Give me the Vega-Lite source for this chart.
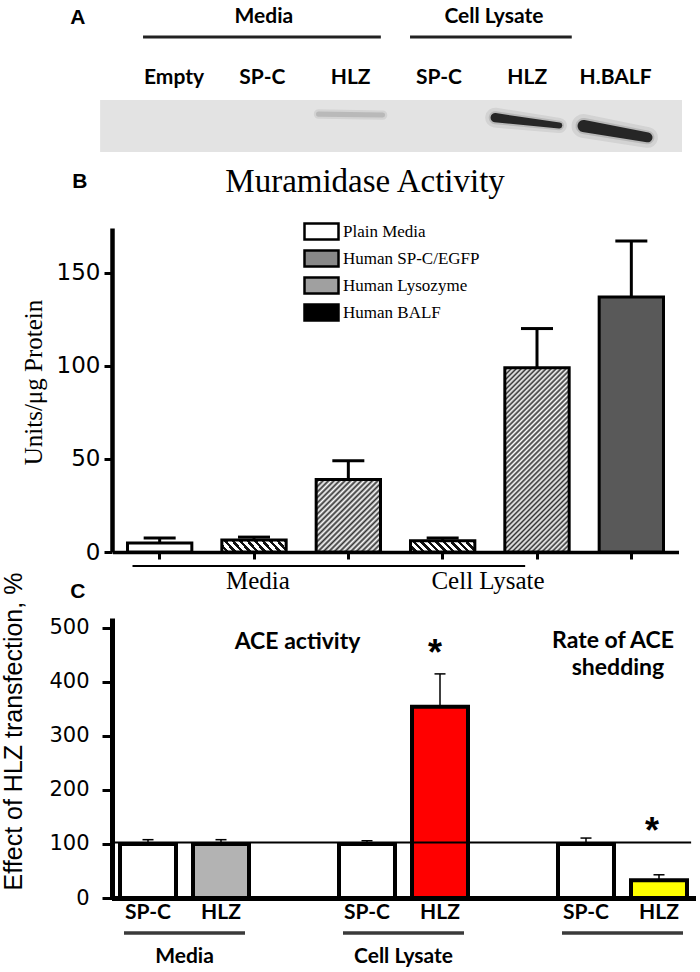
{
  "$schema": "https://vega.github.io/schema/vega-lite/v6.json",
  "width": 700,
  "height": 972,
  "autosize": {"type": "none"},
  "padding": 0,
  "background": "white",
  "config": {
    "view": {"stroke": null},
    "axis": {"grid": false, "domainColor": "black", "tickColor": "black", "labelColor": "black", "titleColor": "black"},
    "text": {"color": "black"}
  },
  "datasets": {
    "lanes": [
      {"lane": "Empty", "label": "Empty"},
      {"lane": "SP-C (M)", "label": "SP-C"},
      {"lane": "HLZ (M)", "label": "HLZ"},
      {"lane": "SP-C (L)", "label": "SP-C"},
      {"lane": "HLZ (L)", "label": "HLZ"},
      {"lane": "H.BALF", "label": "H.BALF"}
    ],
    "blot": [
      {"lane": "HLZ (M)", "end": "start", "migration": 0.27, "density": 0.1},
      {"lane": "HLZ (M)", "end": "end", "migration": 0.29, "density": 0.08},
      {"lane": "HLZ (L)", "end": "start", "migration": 0.34, "density": 0.75},
      {"lane": "HLZ (L)", "end": "end", "migration": 0.49, "density": 0.45},
      {"lane": "H.BALF", "end": "start", "migration": 0.5, "density": 1},
      {"lane": "H.BALF", "end": "end", "migration": 0.72, "density": 0.8}
    ],
    "muramidase": [
      {"cat": "B1", "group": "Media", "treatment": "Plain Media", "value": 4.8, "err": 7.5},
      {"cat": "B2", "group": "Media", "treatment": "Human SP-C/EGFP", "value": 6.5, "err": 8},
      {"cat": "B3", "group": "Media", "treatment": "Human Lysozyme", "value": 39, "err": 49},
      {"cat": "B4", "group": "Cell Lysate", "treatment": "Human SP-C/EGFP", "value": 6, "err": 7.5},
      {"cat": "B5", "group": "Cell Lysate", "treatment": "Human Lysozyme", "value": 99, "err": 120},
      {"cat": "B6", "group": "BALF", "treatment": "Human BALF", "value": 137, "err": 167}
    ],
    "ace": [
      {"group": "Media", "treat": "SP-C", "series": "control", "value": 100, "err": 108},
      {"group": "Media", "treat": "HLZ", "series": "HLZ media", "value": 100, "err": 108},
      {"group": "Cell Lysate", "treat": "SP-C", "series": "control", "value": 100, "err": 106},
      {"group": "Cell Lysate", "treat": "HLZ", "series": "HLZ lysate", "value": 354, "err": 415},
      {"group": "Rate", "treat": "SP-C", "series": "control", "value": 100, "err": 111},
      {"group": "Rate", "treat": "HLZ", "series": "HLZ shedding", "value": 33, "err": 43}
    ],
    "aceGroups": [
      {"group": "Media"}, {"group": "Cell Lysate"}, {"group": "Rate"}
    ],
    "one": [{}]
  },
  "layer": [
    {
      "layer": [
        {
          "data": {"name": "one"},
          "mark": {"type": "rect", "fill": "#e3e3e3"},
          "encoding": {
            "x": {"datum": "Empty", "bandPosition": -0.43, "scale": {"type": "band", "domain": ["Empty", "SP-C (M)", "HLZ (M)", "SP-C (L)", "HLZ (L)", "H.BALF"], "range": [134.3, 655.3], "paddingInner": 0.1, "paddingOuter": 0}, "axis": null},
            "x2": {"datum": "H.BALF", "bandPosition": 1.336},
            "y": {"datum": 0, "type": "quantitative", "scale": {"domain": [0, 1], "range": [100, 152], "zero": false, "nice": false}, "axis": null},
            "y2": {"datum": 1}
          }
        },
        {
          "data": {"name": "blot"},
          "mark": {"type": "trail", "color": "black", "opacity": 0.07},
          "encoding": {
            "x": {"field": "lane", "type": "nominal", "bandPosition": 0},
            "xOffset": {"field": "end", "type": "nominal", "scale": {"type": "point", "domain": ["start", "end"], "padding": 0.12}},
            "y": {"field": "migration", "type": "quantitative"},
            "detail": {"field": "lane"},
            "size": {"field": "density", "type": "quantitative", "scale": {"domain": [0, 1], "range": [8, 24]}, "legend": null}
          }
        },
        {
          "data": {"name": "blot"},
          "mark": {"type": "trail", "color": "black", "opacity": 0.12},
          "encoding": {
            "x": {"field": "lane", "type": "nominal", "bandPosition": 0},
            "xOffset": {"field": "end", "type": "nominal"},
            "y": {"field": "migration", "type": "quantitative"},
            "detail": {"field": "lane"},
            "size": {"field": "density", "type": "quantitative", "scale": {"domain": [0, 1], "range": [4, 16]}, "legend": null}
          }
        },
        {
          "data": {"name": "blot"},
          "transform": [{"filter": "datum.density > 0.3"}],
          "mark": {"type": "trail", "color": "#111111", "opacity": 0.88},
          "encoding": {
            "x": {"field": "lane", "type": "nominal", "bandPosition": 0},
            "xOffset": {"field": "end", "type": "nominal"},
            "y": {"field": "migration", "type": "quantitative"},
            "detail": {"field": "lane"},
            "size": {"field": "density", "type": "quantitative", "scale": {"domain": [0, 1], "range": [1, 12]}, "legend": null}
          }
        },
        {
          "data": {"name": "lanes"},
          "mark": {"type": "text", "font": "Lato", "fontWeight": "bold", "fontSize": 21, "baseline": "middle", "align": "center"},
          "encoding": {
            "x": {"field": "lane", "type": "nominal"},
            "y": {"datum": -0.42},
            "text": {"field": "label"}
          }
        },
        {
          "data": {"name": "one"},
          "mark": {"type": "text", "text": "A", "font": "Liberation Sans", "fontWeight": "bold", "fontSize": 21, "baseline": "middle", "align": "center"},
          "encoding": {"x": {"datum": "Empty", "bandPosition": -0.71}, "y": {"datum": -1.58}}
        },
        {
          "data": {"name": "one"},
          "mark": {"type": "text", "text": "Media", "font": "Lato", "fontWeight": "bold", "fontSize": 21, "baseline": "middle", "align": "center"},
          "encoding": {"x": {"datum": "SP-C (M)", "bandPosition": 0.52}, "y": {"datum": -1.6}}
        },
        {
          "data": {"name": "one"},
          "mark": {"type": "text", "text": "Cell Lysate", "font": "Lato", "fontWeight": "bold", "fontSize": 21, "baseline": "middle", "align": "center"},
          "encoding": {"x": {"datum": "HLZ (L)", "bandPosition": 0.08}, "y": {"datum": -1.6}}
        },
        {
          "data": {"name": "one"},
          "mark": {"type": "rule", "strokeWidth": 3, "color": "#222"},
          "encoding": {"x": {"datum": "Empty", "bandPosition": 0.11}, "x2": {"datum": "HLZ (M)", "bandPosition": 0.88}, "y": {"datum": -1.21}}
        },
        {
          "data": {"name": "one"},
          "mark": {"type": "rule", "strokeWidth": 3, "color": "#222"},
          "encoding": {"x": {"datum": "SP-C (L)", "bandPosition": 0.136}, "x2": {"datum": "HLZ (L)", "bandPosition": 1.06}, "y": {"datum": -1.21}}
        }
      ],
      "resolve": {"scale": {"size": "independent"}}
    },
    {
      "layer": [
        {
          "data": {"name": "muramidase"},
          "mark": {"type": "bar", "stroke": "black", "strokeWidth": 3},
          "encoding": {
            "x": {"field": "cat", "type": "nominal", "scale": {"type": "band", "domain": ["B1", "B2", "B3", "B4", "B5", "B6"], "range": [112.5, 678.5], "paddingInner": 0.318, "paddingOuter": 0.159},
              "axis": {"orient": "bottom", "offset": -420, "labels": false, "ticks": true, "tickSize": 7, "tickWidth": 3, "domainWidth": 3.5, "bandPosition": 0.5, "title": null}},
            "y": {"field": "value", "type": "quantitative", "scale": {"domain": [0, 174], "range": [552, 228], "nice": false},
              "axis": {"orient": "left", "offset": -112, "values": [0, 50, 100, 150], "tickSize": 8, "tickWidth": 3, "domainWidth": 4.5, "labelFont": "DejaVu Sans", "labelFontSize": 23, "labelPadding": 4,
                "title": "Units/μg Protein", "titleFont": "Liberation Serif", "titleFontSize": 25, "titleFontWeight": "normal", "titleX": -79, "titleY": 382, "titleAngle": -90, "titleAlign": "center", "titleBaseline": "middle"}},
            "fill": {
              "condition": [
                {"test": "datum.cat === 'B2' || datum.cat === 'B4'", "value": {"gradient": "linear", "x1": 0, "y1": 1, "x2": 1.135, "y2": 0.81, "stops": [
                  {"offset": 0, "color": "#fff"}, {"offset": 0.055, "color": "#fff"}, {"offset": 0.055, "color": "#111"}, {"offset": 0.1, "color": "#111"},
                  {"offset": 0.1, "color": "#fff"}, {"offset": 0.155, "color": "#fff"}, {"offset": 0.155, "color": "#111"}, {"offset": 0.2, "color": "#111"},
                  {"offset": 0.2, "color": "#fff"}, {"offset": 0.255, "color": "#fff"}, {"offset": 0.255, "color": "#111"}, {"offset": 0.3, "color": "#111"},
                  {"offset": 0.3, "color": "#fff"}, {"offset": 0.355, "color": "#fff"}, {"offset": 0.355, "color": "#111"}, {"offset": 0.4, "color": "#111"},
                  {"offset": 0.4, "color": "#fff"}, {"offset": 0.455, "color": "#fff"}, {"offset": 0.455, "color": "#111"}, {"offset": 0.5, "color": "#111"},
                  {"offset": 0.5, "color": "#fff"}, {"offset": 0.555, "color": "#fff"}, {"offset": 0.555, "color": "#111"}, {"offset": 0.6, "color": "#111"},
                  {"offset": 0.6, "color": "#fff"}, {"offset": 0.655, "color": "#fff"}, {"offset": 0.655, "color": "#111"}, {"offset": 0.7, "color": "#111"},
                  {"offset": 0.7, "color": "#fff"}, {"offset": 0.755, "color": "#fff"}, {"offset": 0.755, "color": "#111"}, {"offset": 0.8, "color": "#111"},
                  {"offset": 0.8, "color": "#fff"}, {"offset": 0.855, "color": "#fff"}, {"offset": 0.855, "color": "#111"}, {"offset": 0.9, "color": "#111"},
                  {"offset": 0.9, "color": "#fff"}, {"offset": 0.955, "color": "#fff"}, {"offset": 0.955, "color": "#111"}, {"offset": 1, "color": "#111"}]}},
                {"test": "datum.cat === 'B3'", "value": {"gradient": "linear", "x1": 0, "y1": 0, "x2": 0.936, "y2": 1.057, "stops": [
                  {"offset": 0, "color": "#fff"}, {"offset": 0.02, "color": "#333"}, {"offset": 0.04, "color": "#fff"}, {"offset": 0.06, "color": "#333"}, {"offset": 0.08, "color": "#fff"},
                  {"offset": 0.1, "color": "#333"}, {"offset": 0.12, "color": "#fff"}, {"offset": 0.14, "color": "#333"}, {"offset": 0.16, "color": "#fff"}, {"offset": 0.18, "color": "#333"},
                  {"offset": 0.2, "color": "#fff"}, {"offset": 0.22, "color": "#333"}, {"offset": 0.24, "color": "#fff"}, {"offset": 0.26, "color": "#333"}, {"offset": 0.28, "color": "#fff"},
                  {"offset": 0.3, "color": "#333"}, {"offset": 0.32, "color": "#fff"}, {"offset": 0.34, "color": "#333"}, {"offset": 0.36, "color": "#fff"}, {"offset": 0.38, "color": "#333"},
                  {"offset": 0.4, "color": "#fff"}, {"offset": 0.42, "color": "#333"}, {"offset": 0.44, "color": "#fff"}, {"offset": 0.46, "color": "#333"}, {"offset": 0.48, "color": "#fff"},
                  {"offset": 0.5, "color": "#333"}, {"offset": 0.52, "color": "#fff"}, {"offset": 0.54, "color": "#333"}, {"offset": 0.56, "color": "#fff"}, {"offset": 0.58, "color": "#333"},
                  {"offset": 0.6, "color": "#fff"}, {"offset": 0.62, "color": "#333"}, {"offset": 0.64, "color": "#fff"}, {"offset": 0.66, "color": "#333"}, {"offset": 0.68, "color": "#fff"},
                  {"offset": 0.7, "color": "#333"}, {"offset": 0.72, "color": "#fff"}, {"offset": 0.74, "color": "#333"}, {"offset": 0.76, "color": "#fff"}, {"offset": 0.78, "color": "#333"},
                  {"offset": 0.8, "color": "#fff"}, {"offset": 0.82, "color": "#333"}, {"offset": 0.84, "color": "#fff"}, {"offset": 0.86, "color": "#333"}, {"offset": 0.88, "color": "#fff"},
                  {"offset": 0.9, "color": "#333"}, {"offset": 0.92, "color": "#fff"}, {"offset": 0.94, "color": "#333"}, {"offset": 0.96, "color": "#fff"}, {"offset": 0.98, "color": "#333"},
                  {"offset": 1, "color": "#fff"}]}},
                {"test": "datum.cat === 'B5'", "value": {"gradient": "linear", "x1": 0, "y1": 0, "x2": 0.4195, "y2": 1.2025, "stops": [
                  {"offset": 0, "color": "#fff"}, {"offset": 0.01, "color": "#333"}, {"offset": 0.02, "color": "#fff"}, {"offset": 0.03, "color": "#333"}, {"offset": 0.04, "color": "#fff"},
                  {"offset": 0.05, "color": "#333"}, {"offset": 0.06, "color": "#fff"}, {"offset": 0.07, "color": "#333"}, {"offset": 0.08, "color": "#fff"}, {"offset": 0.09, "color": "#333"},
                  {"offset": 0.1, "color": "#fff"}, {"offset": 0.11, "color": "#333"}, {"offset": 0.12, "color": "#fff"}, {"offset": 0.13, "color": "#333"}, {"offset": 0.14, "color": "#fff"},
                  {"offset": 0.15, "color": "#333"}, {"offset": 0.16, "color": "#fff"}, {"offset": 0.17, "color": "#333"}, {"offset": 0.18, "color": "#fff"}, {"offset": 0.19, "color": "#333"},
                  {"offset": 0.2, "color": "#fff"}, {"offset": 0.21, "color": "#333"}, {"offset": 0.22, "color": "#fff"}, {"offset": 0.23, "color": "#333"}, {"offset": 0.24, "color": "#fff"},
                  {"offset": 0.25, "color": "#333"}, {"offset": 0.26, "color": "#fff"}, {"offset": 0.27, "color": "#333"}, {"offset": 0.28, "color": "#fff"}, {"offset": 0.29, "color": "#333"},
                  {"offset": 0.3, "color": "#fff"}, {"offset": 0.31, "color": "#333"}, {"offset": 0.32, "color": "#fff"}, {"offset": 0.33, "color": "#333"}, {"offset": 0.34, "color": "#fff"},
                  {"offset": 0.35, "color": "#333"}, {"offset": 0.36, "color": "#fff"}, {"offset": 0.37, "color": "#333"}, {"offset": 0.38, "color": "#fff"}, {"offset": 0.39, "color": "#333"},
                  {"offset": 0.4, "color": "#fff"}, {"offset": 0.41, "color": "#333"}, {"offset": 0.42, "color": "#fff"}, {"offset": 0.43, "color": "#333"}, {"offset": 0.44, "color": "#fff"},
                  {"offset": 0.45, "color": "#333"}, {"offset": 0.46, "color": "#fff"}, {"offset": 0.47, "color": "#333"}, {"offset": 0.48, "color": "#fff"}, {"offset": 0.49, "color": "#333"},
                  {"offset": 0.5, "color": "#fff"}, {"offset": 0.51, "color": "#333"}, {"offset": 0.52, "color": "#fff"}, {"offset": 0.53, "color": "#333"}, {"offset": 0.54, "color": "#fff"},
                  {"offset": 0.55, "color": "#333"}, {"offset": 0.56, "color": "#fff"}, {"offset": 0.57, "color": "#333"}, {"offset": 0.58, "color": "#fff"}, {"offset": 0.59, "color": "#333"},
                  {"offset": 0.6, "color": "#fff"}, {"offset": 0.61, "color": "#333"}, {"offset": 0.62, "color": "#fff"}, {"offset": 0.63, "color": "#333"}, {"offset": 0.64, "color": "#fff"},
                  {"offset": 0.65, "color": "#333"}, {"offset": 0.66, "color": "#fff"}, {"offset": 0.67, "color": "#333"}, {"offset": 0.68, "color": "#fff"}, {"offset": 0.69, "color": "#333"},
                  {"offset": 0.7, "color": "#fff"}, {"offset": 0.71, "color": "#333"}, {"offset": 0.72, "color": "#fff"}, {"offset": 0.73, "color": "#333"}, {"offset": 0.74, "color": "#fff"},
                  {"offset": 0.75, "color": "#333"}, {"offset": 0.76, "color": "#fff"}, {"offset": 0.77, "color": "#333"}, {"offset": 0.78, "color": "#fff"}, {"offset": 0.79, "color": "#333"},
                  {"offset": 0.8, "color": "#fff"}, {"offset": 0.81, "color": "#333"}, {"offset": 0.82, "color": "#fff"}, {"offset": 0.83, "color": "#333"}, {"offset": 0.84, "color": "#fff"},
                  {"offset": 0.85, "color": "#333"}, {"offset": 0.86, "color": "#fff"}, {"offset": 0.87, "color": "#333"}, {"offset": 0.88, "color": "#fff"}, {"offset": 0.89, "color": "#333"},
                  {"offset": 0.9, "color": "#fff"}, {"offset": 0.91, "color": "#333"}, {"offset": 0.92, "color": "#fff"}, {"offset": 0.93, "color": "#333"}, {"offset": 0.94, "color": "#fff"},
                  {"offset": 0.95, "color": "#333"}, {"offset": 0.96, "color": "#fff"}, {"offset": 0.97, "color": "#333"}, {"offset": 0.98, "color": "#fff"}, {"offset": 0.99, "color": "#333"},
                  {"offset": 1, "color": "#fff"}]}},
                {"test": "datum.cat === 'B6'", "value": "#595959"}
              ],
              "field": "treatment", "type": "nominal",
              "scale": {"domain": ["Plain Media", "Human SP-C/EGFP", "Human Lysozyme", "Human BALF"], "range": ["#ffffff", "#888888", "#a0a0a0", "#000000"]},
              "legend": {"orient": "none", "legendX": 313, "legendY": 223, "title": null, "padding": 0,
                "symbolType": "M-3.4,-1.6H3.4V1.6H-3.4Z", "symbolSize": 100, "symbolStrokeColor": "black", "symbolStrokeWidth": 2.5,
                "labelFont": "Liberation Serif", "labelFontSize": 17, "labelColor": "black", "labelOffset": 13, "rowPadding": 0}
            }
          }
        },
        {
          "data": {"name": "muramidase"},
          "mark": {"type": "rule", "strokeWidth": 3, "color": "black"},
          "encoding": {
            "x": {"field": "cat", "type": "nominal"},
            "y": {"field": "value", "type": "quantitative"},
            "y2": {"field": "err"}
          }
        },
        {
          "data": {"name": "muramidase"},
          "mark": {"type": "tick", "size": 32, "thickness": 3, "color": "black", "opacity": 1},
          "encoding": {
            "x": {"field": "cat", "type": "nominal"},
            "y": {"field": "err", "type": "quantitative"}
          }
        },
        {
          "data": {"name": "one"},
          "mark": {"type": "text", "text": "Muramidase Activity", "font": "Liberation Serif", "fontSize": 33, "baseline": "alphabetic", "align": "center"},
          "encoding": {"x": {"datum": "B3", "bandPosition": 0.76}, "y": {"datum": 193.3}}
        },
        {
          "data": {"name": "one"},
          "mark": {"type": "text", "text": "B", "font": "Liberation Sans", "fontWeight": "bold", "fontSize": 21, "baseline": "middle", "align": "center"},
          "encoding": {"x": {"datum": "B1", "bandPosition": -0.74}, "y": {"datum": 198.7}}
        },
        {
          "data": {"name": "one"},
          "mark": {"type": "text", "text": "Media", "font": "Liberation Serif", "fontSize": 25, "baseline": "middle", "align": "center"},
          "encoding": {"x": {"datum": "B2", "bandPosition": 0.56}, "y": {"datum": -15.6}}
        },
        {
          "data": {"name": "one"},
          "mark": {"type": "text", "text": "Cell Lysate", "font": "Liberation Serif", "fontSize": 25, "baseline": "middle", "align": "center"},
          "encoding": {"x": {"datum": "B4", "bandPosition": 1.205}, "y": {"datum": -15.6}}
        },
        {
          "data": {"name": "one"},
          "mark": {"type": "tick", "size": 243, "thickness": 2, "color": "black", "opacity": 1},
          "encoding": {"x": {"datum": "B2", "bandPosition": 0.5}, "y": {"datum": -7.5}}
        },
        {
          "data": {"name": "one"},
          "mark": {"type": "tick", "size": 165, "thickness": 2, "color": "black", "opacity": 1},
          "encoding": {"x": {"datum": "B4", "bandPosition": 1.2}, "y": {"datum": -7.5}}
        }
      ]
    },
    {
      "layer": [
        {
          "data": {"name": "ace"},
          "mark": {"type": "bar", "stroke": "black", "strokeWidth": 4},
          "encoding": {
            "x": {"field": "group", "type": "nominal", "scale": {"type": "band", "domain": ["Media", "Cell Lysate", "Rate"], "range": [111.5, 695.5], "paddingInner": 0.3333, "paddingOuter": 0},
              "axis": {"orient": "bottom", "offset": -74, "ticks": false, "tickSize": 0, "domainWidth": 5, "labelFont": "Lato", "labelFontWeight": "bold", "labelFontSize": 21, "labelPadding": 47,
                "labelExpr": "datum.value === 'Rate' ? '' : datum.value", "labelAngle": 0, "title": null}},
            "xOffset": {"field": "treat", "type": "nominal", "scale": {"type": "band", "domain": ["SP-C", "HLZ"], "paddingInner": 0.233, "paddingOuter": 0.1165}},
            "y": {"field": "value", "type": "quantitative", "scale": {"domain": [0, 518.5], "range": [898, 618], "nice": false},
              "axis": {"orient": "left", "offset": -112, "values": [0, 100, 200, 300, 400, 500], "tickSize": 10, "tickWidth": 3, "domainWidth": 5, "labelFont": "DejaVu Sans", "labelFontSize": 21, "labelPadding": 13,
                "title": "Effect of HLZ transfection, %", "titleFont": "Liberation Sans", "titleFontSize": 25, "titleFontWeight": "normal", "titleX": -99, "titleY": 731, "titleAngle": -90, "titleAlign": "center", "titleBaseline": "middle"}},
            "fill": {"field": "series", "type": "nominal", "scale": {"domain": ["control", "HLZ media", "HLZ lysate", "HLZ shedding"], "range": ["#ffffff", "#b3b3b3", "#ff0000", "#ffff00"]}, "legend": null}
          }
        },
        {
          "data": {"name": "ace"},
          "mark": {"type": "rule", "strokeWidth": 1.5, "color": "black"},
          "encoding": {
            "x": {"field": "group", "type": "nominal"},
            "xOffset": {"field": "treat", "type": "nominal"},
            "y": {"field": "value", "type": "quantitative"},
            "y2": {"field": "err"}
          }
        },
        {
          "data": {"name": "ace"},
          "mark": {"type": "tick", "size": 11, "thickness": 1.5, "color": "black", "opacity": 1},
          "encoding": {
            "x": {"field": "group", "type": "nominal"},
            "xOffset": {"field": "treat", "type": "nominal"},
            "y": {"field": "err", "type": "quantitative"}
          }
        },
        {
          "data": {"name": "one"},
          "mark": {"type": "rule", "strokeWidth": 2, "color": "black"},
          "encoding": {"x": {"datum": "Media", "bandPosition": 0}, "x2": {"datum": "Rate", "bandPosition": 0.97}, "y": {"datum": 103}}
        },
        {
          "data": {"name": "ace"},
          "mark": {"type": "text", "font": "Lato", "fontWeight": "bold", "fontSize": 21, "baseline": "middle", "align": "center"},
          "encoding": {
            "x": {"field": "group", "type": "nominal"},
            "xOffset": {"field": "treat", "type": "nominal"},
            "y": {"datum": -28.5},
            "text": {"field": "treat"}
          }
        },
        {
          "data": {"name": "aceGroups"},
          "mark": {"type": "tick", "size": 121, "thickness": 3.5, "color": "#3a3a3a", "opacity": 1},
          "encoding": {"x": {"field": "group", "type": "nominal"}, "y": {"datum": -64.8}}
        },
        {
          "data": {"name": "one"},
          "mark": {"type": "text", "text": "C", "font": "Liberation Sans", "fontWeight": "bold", "fontSize": 21, "baseline": "middle", "align": "center"},
          "encoding": {"x": {"datum": "Media", "bandPosition": -0.23}, "y": {"datum": 566.7}}
        },
        {
          "data": {"name": "one"},
          "mark": {"type": "text", "text": "ACE activity", "font": "Lato", "fontWeight": "bold", "fontSize": 23, "baseline": "middle", "align": "center"},
          "encoding": {"x": {"datum": "Media", "bandPosition": 1.274}, "y": {"datum": 474}}
        },
        {
          "data": {"name": "one"},
          "mark": {"type": "text", "text": "Rate of ACE", "font": "Lato", "fontWeight": "bold", "fontSize": 23, "baseline": "middle", "align": "center"},
          "encoding": {"x": {"datum": "Rate", "bandPosition": 0.435}, "y": {"datum": 476}}
        },
        {
          "data": {"name": "one"},
          "mark": {"type": "text", "text": "shedding", "font": "Lato", "fontWeight": "bold", "fontSize": 23, "baseline": "middle", "align": "center"},
          "encoding": {"x": {"datum": "Rate", "bandPosition": 0.469}, "y": {"datum": 426}}
        },
        {
          "data": {"name": "one"},
          "mark": {"type": "text", "text": "*", "font": "Liberation Sans", "fontWeight": "bold", "fontSize": 36, "baseline": "alphabetic", "align": "center"},
          "encoding": {"x": {"datum": "Cell Lysate", "bandPosition": 0.716}, "y": {"datum": 431.5}}
        },
        {
          "data": {"name": "one"},
          "mark": {"type": "text", "text": "*", "font": "Liberation Sans", "fontWeight": "bold", "fontSize": 36, "baseline": "alphabetic", "align": "center"},
          "encoding": {"x": {"datum": "Rate", "bandPosition": 0.702}, "y": {"datum": 101.9}}
        }
      ]
    }
  ],
  "resolve": {
    "scale": {"x": "independent", "y": "independent", "xOffset": "independent", "fill": "independent", "size": "independent"},
    "axis": {"x": "independent", "y": "independent"},
    "legend": {"fill": "independent"}
  }
}
